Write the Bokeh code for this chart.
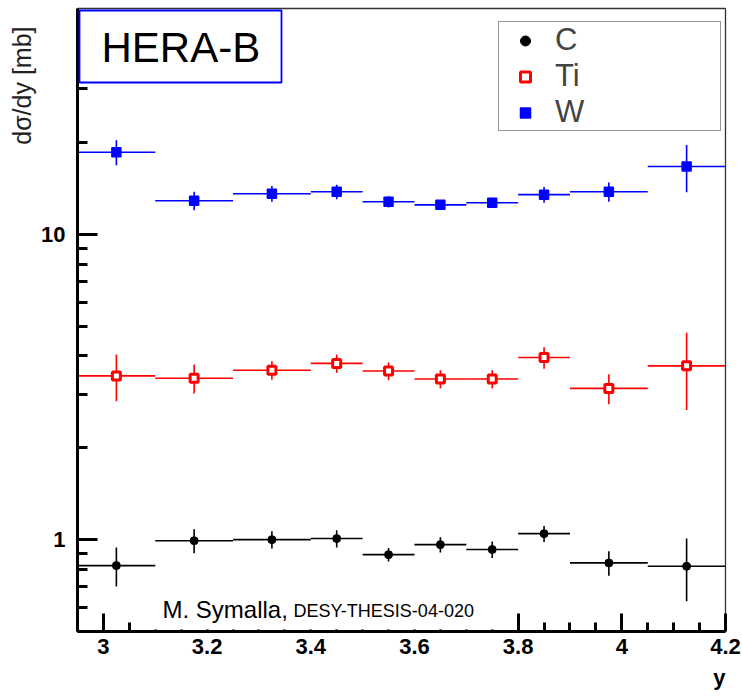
from bokeh.plotting import figure
from bokeh.models import (FixedTicker, Label, BoxAnnotation, Legend, LegendItem,
                          ColumnDataSource, Range1d, Title)
from bokeh.embed import file_html
from bokeh.resources import INLINE

# ---------------- data ----------------
bin_lo = [2.95, 3.10, 3.25, 3.40, 3.50, 3.60, 3.70, 3.80, 3.90, 4.05]
bin_hi = [3.10, 3.25, 3.40, 3.50, 3.60, 3.70, 3.80, 3.90, 4.05, 4.20]
y_pos = [3.025, 3.175, 3.325, 3.45, 3.55, 3.65, 3.75, 3.85, 3.975, 4.125]

c_val = [0.822, 0.992, 1.000, 1.008, 0.893, 0.963, 0.928, 1.046, 0.839, 0.818]
c_err = [0.120, 0.090, 0.065, 0.065, 0.045, 0.055, 0.058, 0.063, 0.077, 0.190]

ti_val = [3.44, 3.38, 3.59, 3.78, 3.57, 3.36, 3.36, 3.95, 3.13, 3.71]
ti_err = [0.60, 0.37, 0.25, 0.26, 0.24, 0.23, 0.23, 0.32, 0.355, 1.05]

w_val = [18.6, 12.9, 13.6, 13.8, 12.8, 12.5, 12.7, 13.5, 13.8, 16.7]
w_err = [1.75, 0.90, 0.80, 0.75, 0.55, 0.35, 0.50, 0.80, 1.00, 2.95]

x_ticks = [3.0, 3.2, 3.4, 3.6, 3.8, 4.0, 4.2]
x_tick_labels = ["3", "3.2", "3.4", "3.6", "3.8", "4", "4.2"]
x_minor = [2.95, 3.05, 3.1, 3.15, 3.25, 3.3, 3.35, 3.45, 3.5, 3.55, 3.65, 3.7,
           3.75, 3.85, 3.9, 3.95, 4.05, 4.1, 4.15]
y_ticks = [1, 10]
y_tick_labels = ["1", "10"]
y_minor = [0.5, 0.6, 0.7, 0.8, 0.9, 2, 3, 4, 5, 6, 7, 8, 9, 20, 30, 40, 50]

FONT = "Liberation Sans"

p = figure(width=742, height=696, output_backend="svg", toolbar_location=None,
           y_axis_type="log", x_range=Range1d(2.95, 4.2), y_range=Range1d(0.5, 55),
           min_border_left=77, min_border_right=17, min_border_top=8,
           min_border_bottom=65, title=None)
p.background_fill_color = "white"
p.border_fill_color = "white"
p.outline_line_color = "#333333"
p.outline_line_width = 1.3
p.xgrid.visible = False
p.ygrid.visible = False

# axes
for ax in (p.xaxis[0], p.yaxis[0]):
    ax.axis_line_width = 3
    ax.axis_line_color = "black"
    ax.major_tick_line_width = 3
    ax.minor_tick_line_width = 3
    ax.major_tick_out = 0
    ax.minor_tick_out = 0
    ax.major_label_text_font = FONT
    ax.major_label_text_font_style = "bold"
    ax.major_label_text_font_size = "22px"
    ax.major_label_text_color = "black"

p.xaxis.ticker = FixedTicker(ticks=x_ticks, minor_ticks=x_minor)
p.xaxis.major_label_overrides = dict(zip(x_ticks, x_tick_labels))
p.xaxis.major_tick_in = 18
p.xaxis.minor_tick_in = 9
p.xaxis.major_label_standoff = 7

p.yaxis.ticker = FixedTicker(ticks=y_ticks, minor_ticks=y_minor)
p.yaxis.major_label_overrides = dict(zip(y_ticks, y_tick_labels))
p.yaxis.major_tick_in = 20
p.yaxis.minor_tick_in = 10
p.yaxis.major_label_standoff = 12

# ---------------- series ----------------
def series(vals, errs, color, marker, size, fill, lw):
    src = ColumnDataSource(dict(
        x=y_pos, lo=bin_lo, hi=bin_hi, y=vals,
        ylo=[v - e for v, e in zip(vals, errs)],
        yhi=[v + e for v, e in zip(vals, errs)]))
    p.segment(x0="lo", x1="hi", y0="y", y1="y", source=src, line_color=color, line_width=1.6)
    p.segment(x0="x", x1="x", y0="ylo", y1="yhi", source=src, line_color=color, line_width=1.6)
    r = p.scatter(x="x", y="y", source=src, marker=marker, size=size,
                  fill_color=fill, line_color=color, line_width=lw)
    return r

rc = series(c_val, c_err, "black", "circle", 8, "black", 1)
rti = series(ti_val, ti_err, "#ff0000", "square", 8, "white", 3)
rw = series(w_val, w_err, "#0000ff", "square", 9, "#0000ff", 1.5)

legend = Legend(items=[LegendItem(label="C", renderers=[rc]),
                       LegendItem(label="Ti", renderers=[rti]),
                       LegendItem(label="W", renderers=[rw])],
                location=(421, 500), padding=0, spacing=0, margin=0,
                glyph_width=52, glyph_height=25, label_standoff=4, label_width=165,
                label_text_font=FONT, label_text_font_size="31px",
                border_line_color="#333333", border_line_width=1.5,
                background_fill_color="white", background_fill_alpha=1.0)
p.add_layout(legend)

# HERA-B box
p.add_layout(BoxAnnotation(left=2, right=204, bottom=549, top=621,
                           left_units="screen", right_units="screen",
                           bottom_units="screen", top_units="screen",
                           fill_color="white", fill_alpha=1.0,
                           line_color="#0000ff", line_alpha=1.0, line_width=1.8,
                           level="overlay"))
p.add_layout(Label(x=24, y=584, x_units="screen", y_units="screen", text="HERA-B",
                   text_font=FONT, text_font_size="42px", text_color="black",
                   text_align="left", text_baseline="middle", level="overlay"))

# credit box
p.add_layout(BoxAnnotation(left=63, right=424, bottom=2, top=43,
                           left_units="screen", right_units="screen",
                           bottom_units="screen", top_units="screen",
                           fill_color="white", fill_alpha=1.0, line_alpha=0,
                           level="overlay"))
p.add_layout(Label(x=85, y=22.5, x_units="screen", y_units="screen", text="M. Symalla,",
                   text_font=FONT, text_font_size="24px", text_color="black",
                   text_baseline="middle", level="overlay"))
p.add_layout(Label(x=216, y=20.5, x_units="screen", y_units="screen",
                   text="DESY-THESIS-04-020",
                   text_font=FONT, text_font_size="18px", text_color="black",
                   text_baseline="middle", level="overlay"))

# axis titles (as side titles so they sit outside the frame)
p.add_layout(Title(text="dσ/dy [mb]", align="right", text_font=FONT,
                   text_font_size="25px", text_font_style="normal",
                   text_color="#222222", standoff=5, offset=18), "left")
p.add_layout(Title(text="y", align="right", text_font=FONT,
                   text_font_size="22px", text_font_style="bold",
                   text_color="black", standoff=12, offset=0), "below")

open("out.html", "w").write(file_html(p, INLINE))
